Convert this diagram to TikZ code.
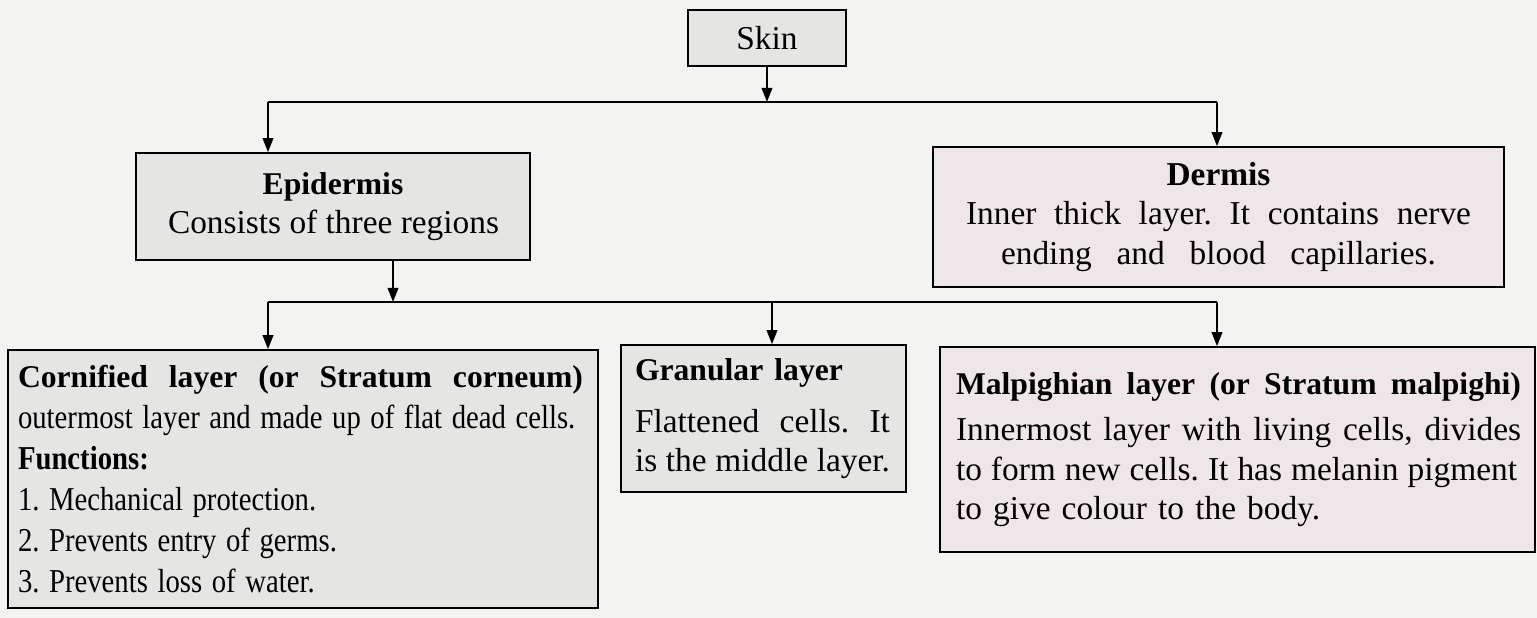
\documentclass[tikz,border=0pt]{standalone}
\usepackage{fontspec}
\setmainfont{Liberation Serif}
\usepackage{xcolor}
\usepackage{graphicx}
\usetikzlibrary{positioning,arrows.meta}

\definecolor{paper}{RGB}{243,243,241}
\definecolor{boxgray}{RGB}{229,229,227}
\definecolor{boxpink}{RGB}{238,230,232}

\newcommand{\headfont}{\fontsize{18}{22.5}\selectfont\bfseries}
\newcommand{\spreadto}[3][]{\makebox[#2][s]{#1\spaceskip=\fontdimen2\font plus 1fil\relax #3}}
\newcommand{\narrowline}[1]{\scalebox{0.86}[1]{#1}}

\begin{document}
\frenchspacing
\begin{tikzpicture}[
    layerbox/.style={draw, line width=0.9pt, fill=boxgray, inner ysep=4pt,
        font=\fontsize{19}{22.5}\selectfont\frenchspacing},
    link/.style={line width=1.1pt},
    arrowlink/.style={link, -{Triangle[length=2.8mm, width=2.1mm]}}
]
\fill[paper] (0,0) rectangle (30.74,12.36);
\useasboundingbox (0,0) rectangle (30.74,12.36);

\node[layerbox, minimum width=3.16cm, minimum height=1.12cm] (skin) at (15.34,11.60) {Skin};

\node[layerbox, minimum width=7.88cm, minimum height=2.14cm, align=center] (epi) at (6.66,8.23)
    {{\headfont Epidermis}\\\spreadto{6.6cm}{Consists of three regions}};
\node[layerbox, fill=boxpink, minimum width=11.42cm, minimum height=2.80cm, align=center] (derm) at (24.37,8.02)
    {\textbf{Dermis}\\
     \spreadto{10.1cm}{Inner thick layer. It contains nerve}\\
     \spreadto{8.7cm}{ending and blood capillaries.}};

\node[layerbox, text width=11.40cm, inner xsep=0.2cm, minimum height=5.16cm, align=left,
      font=\fontsize{19}{23.3}\selectfont\frenchspacing] (corn) at (6.06,2.78)
    {\spreadto[\headfont]{11.3cm}{Cornified layer (or Stratum corneum)}\\
     \narrowline{outermost layer and made up of flat dead cells.}\\
     \narrowline{\bfseries Functions:}\\
     \narrowline{1. Mechanical protection.}\\
     \narrowline{2. Prevents entry of germs.}\\
     \narrowline{3. Prevents loss of water.}};
\node[layerbox, text width=5.14cm, inner xsep=0.28cm, minimum height=2.94cm, align=left] (gran) at (15.27,3.99)
    {{\headfont Granular layer}\\[7pt]
     \spreadto{5.1cm}{Flattened cells. It}\\
     \spreadto{5.1cm}{is the middle layer.}};
\node[layerbox, fill=boxpink, text width=11.26cm, inner xsep=0.32cm, minimum height=4.10cm, align=left] (malp) at (24.75,3.37)
    {\spreadto[\headfont]{11.3cm}{Malpighian layer (or Stratum malpighi)}\\[4pt]
     \spreadto{11.3cm}{Innermost layer with living cells, divides}\\
     \spreadto{11.22cm}{to form new cells. It has melanin pigment}\\
     to give colour to the body.};

% branch points
\coordinate (top_l) at (5.36,10.32);
\coordinate (top_m) at (15.34,10.32);
\coordinate (top_r) at (24.34,10.32);
\coordinate (mid_l) at (5.36,6.32);
\coordinate (mid_e) at (7.86,6.32);
\coordinate (mid_m) at (15.44,6.32);
\coordinate (mid_r) at (24.34,6.32);

\draw[arrowlink] (skin) -- (top_m);
\draw[link] (top_l) -- (top_r);
\draw[arrowlink] (top_l) -- (top_l |- epi.north);
\draw[arrowlink] (top_r) -- (top_r |- derm.north);

\draw[arrowlink] (mid_e |- epi.south) -- (mid_e);
\draw[link] (mid_l) -- (mid_r);
\draw[arrowlink] (mid_l) -- (mid_l |- corn.north);
\draw[arrowlink] (mid_m) -- (mid_m |- gran.north);
\draw[arrowlink] (mid_r) -- (mid_r |- malp.north);

\end{tikzpicture}
\end{document}
